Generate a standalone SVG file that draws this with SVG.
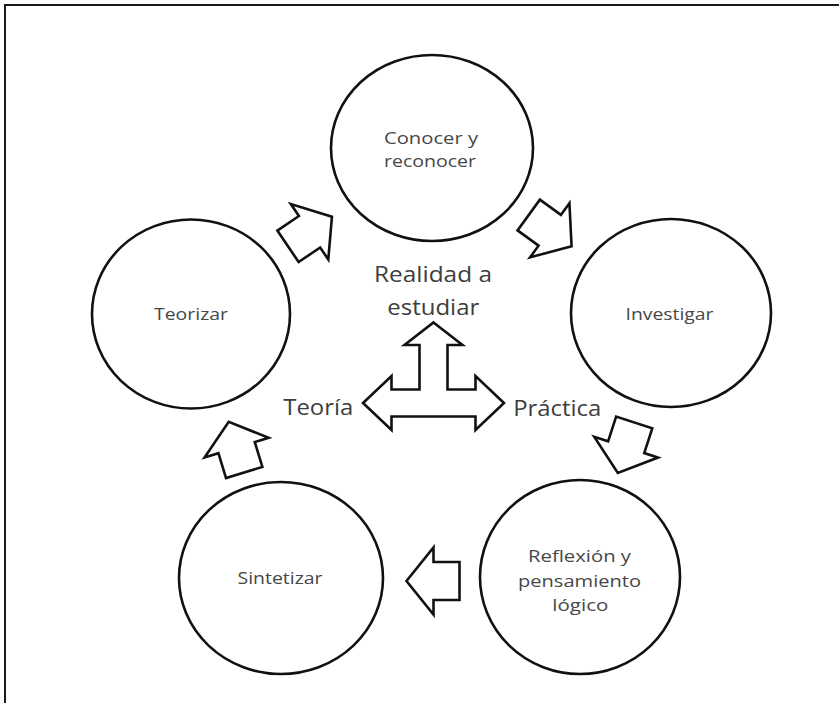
<svg xmlns="http://www.w3.org/2000/svg" xmlns:xlink="http://www.w3.org/1999/xlink" width="839" height="703" viewBox="0 0 839 703">
<style>
.frame{stroke:#1a1a1a;stroke-width:2;fill:none}
.node{fill:#fff;stroke:#111;stroke-width:2.6}
.arr{fill:#fff;stroke:#111;stroke-width:2.6;stroke-linejoin:miter}
.lbl{font-family:"Open Sans","Liberation Sans",sans-serif;font-size:16.5px;fill:#474747}
.big{font-family:"Open Sans","Liberation Sans",sans-serif;font-size:21px;fill:#3d3d3d}
</style>
<defs>
<path id="blk" d="M0,-19 H26 V-33.5 L53,0 L26,33.5 V19 H0 Z"/>
</defs>
<rect width="839" height="703" fill="#fff"/>
<path class="frame" d="M5,703 V5 H839"/>
<g id="node-conocer">
<ellipse class="node" cx="432" cy="148" rx="101" ry="93"/>
<text class="lbl" x="384" y="144" textLength="94" lengthAdjust="spacingAndGlyphs">Conocer y</text>
<text class="lbl" x="384" y="167" textLength="92" lengthAdjust="spacingAndGlyphs">reconocer</text>
</g>
<g id="node-teorizar">
<ellipse class="node" cx="191" cy="314" rx="99" ry="94.5"/>
<text class="lbl" x="154" y="319.5" textLength="74" lengthAdjust="spacingAndGlyphs">Teorizar</text>
</g>
<g id="node-investigar">
<ellipse class="node" cx="671" cy="313" rx="100" ry="94"/>
<text class="lbl" x="625.5" y="320" textLength="88" lengthAdjust="spacingAndGlyphs">Investigar</text>
</g>
<g id="node-sintetizar">
<ellipse class="node" cx="281" cy="578" rx="102" ry="96"/>
<text class="lbl" x="237.5" y="583.5" textLength="85" lengthAdjust="spacingAndGlyphs">Sintetizar</text>
</g>
<g id="node-reflexion">
<ellipse class="node" cx="580" cy="577" rx="100" ry="97"/>
<text class="lbl" x="528" y="562" textLength="103" lengthAdjust="spacingAndGlyphs">Reflexión y</text>
<text class="lbl" x="518" y="586.5" textLength="123" lengthAdjust="spacingAndGlyphs">pensamiento</text>
<text class="lbl" x="552.3" y="611" textLength="56" lengthAdjust="spacingAndGlyphs">lógico</text>
</g>
<g id="connectors">
<use xlink:href="#blk" class="arr" transform="translate(288,246.3) rotate(-34)"/>
<use xlink:href="#blk" class="arr" transform="translate(528.7,215) rotate(36)"/>
<use xlink:href="#blk" class="arr" transform="translate(634.2,422.5) rotate(108)"/>
<use xlink:href="#blk" class="arr" transform="translate(459.5,581) rotate(180)"/>
<use xlink:href="#blk" class="arr" transform="translate(244.2,472.5) rotate(-107)"/>
<polygon class="arr" points="433.5,322.5 462.5,345 447.5,345 447.5,389.5 475.5,389.5 475.5,376 504,403 475.5,430 475.5,416.5 391.5,416.5 391.5,430 363,403 391.5,376 391.5,389.5 419.5,389.5 419.5,345 404.5,345"/>
</g>
<g id="center-labels">
<text class="big" x="374" y="282" textLength="118" lengthAdjust="spacingAndGlyphs">Realidad a</text>
<text class="big" x="387.3" y="315" textLength="92" lengthAdjust="spacingAndGlyphs">estudiar</text>
<text class="big" x="283.3" y="415" textLength="70" lengthAdjust="spacingAndGlyphs">Teoría</text>
<text class="big" x="513.2" y="416" textLength="88" lengthAdjust="spacingAndGlyphs">Práctica</text>
</g>
</svg>
